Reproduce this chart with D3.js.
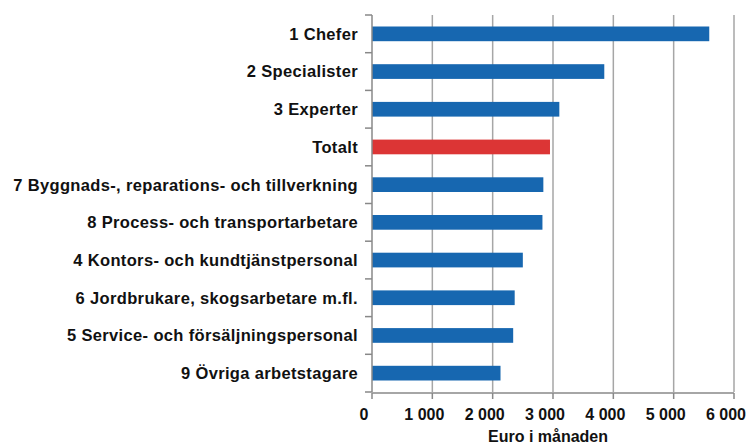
<!DOCTYPE html>
<html>
<head>
<meta charset="utf-8">
<script src="https://cdn.jsdelivr.net/npm/d3@7"></script>
<style>
  body { margin: 0; background: #fff; }
  text { font-family: "Liberation Sans", Arial, sans-serif; font-weight: bold; fill: #111; }
</style>
</head>
<body>
<svg id="chart" width="749" height="445"></svg>
<script>
// categories top to bottom, values in euro / month
const categories = [
  "1 Chefer",
  "2 Specialister",
  "3 Experter",
  "Totalt",
  "7 Byggnads-, reparations- och tillverkning",
  "8 Process- och transportarbetare",
  "4 Kontors- och kundtjänstpersonal",
  "6 Jordbrukare, skogsarbetare m.fl.",
  "5 Service- och försäljningspersonal",
  "9 Övriga arbetstagare"
];
const values = [5590, 3850, 3105, 2950, 2840, 2825, 2500, 2365, 2340, 2130];
const xTicks = [0, 1000, 2000, 3000, 4000, 5000, 6000];
const xTitle = "Euro i månaden";

const svg = d3.select("#chart");
const margin = { left: 372, top: 15, right: 15, bottom: 53 };

const x = d3.scaleLinear().domain([0, 6000]).range([margin.left, 734]);
const y = d3.scaleBand().domain(categories).range([margin.top, 392]).paddingInner(0.61).paddingOuter(0.305);

const fmt = d => d3.format(",")(d).replace(/,/g, " ");

// gridlines
svg.append("g")
  .selectAll("line")
  .data(xTicks.slice(1))
  .join("line")
  .attr("x1", d => x(d)).attr("x2", d => x(d))
  .attr("y1", margin.top).attr("y2", 392)
  .attr("stroke", "#a6a6a6").attr("stroke-width", 1.5);

// bars
svg.append("g")
  .selectAll("rect")
  .data(categories)
  .join("rect")
  .attr("x", x(0))
  .attr("y", d => y(d))
  .attr("width", (d, i) => x(values[i]) - x(0))
  .attr("height", y.bandwidth())
  .attr("fill", d => d === "Totalt" ? "#dc3535" : "#1767b0");

// y axis
const yAxis = svg.append("g").attr("transform", `translate(${x(0)},0)`);
yAxis.append("line")
  .attr("x1", 0).attr("x2", 0).attr("y1", margin.top).attr("y2", 392)
  .attr("stroke", "#888").attr("stroke-width", 1.5);
const step = y.step();
const bounds = d3.range(categories.length + 1).map(i => margin.top + i * step);
yAxis.selectAll("line.tick")
  .data(bounds)
  .join("line")
  .attr("class", "tick")
  .attr("x1", -7).attr("x2", 0)
  .attr("y1", d => d).attr("y2", d => d)
  .attr("stroke", "#888").attr("stroke-width", 1.5);

svg.append("g")
  .selectAll("text")
  .data(categories)
  .join("text")
  .attr("x", 358)
  .attr("y", d => y(d) + y.bandwidth() / 2)
  .attr("dy", "0.36em")
  .attr("text-anchor", "end")
  .style("font-size", "16.5px")
  .style("letter-spacing", "0.35px")
  .text(d => d);

// x axis
const xAxis = svg.append("g");
xAxis.append("line")
  .attr("x1", x(0)).attr("x2", x(6000)).attr("y1", 393).attr("y2", 393)
  .attr("stroke", "#888").attr("stroke-width", 1.5);
xAxis.selectAll("line.tick")
  .data(xTicks)
  .join("line")
  .attr("class", "tick")
  .attr("x1", d => x(d)).attr("x2", d => x(d))
  .attr("y1", 393).attr("y2", 399)
  .attr("stroke", "#888").attr("stroke-width", 1.5);
xAxis.selectAll("text")
  .data(xTicks)
  .join("text")
  .attr("x", d => x(d) - 8)
  .attr("y", 419.5)
  .attr("text-anchor", "middle")
  .style("font-size", "16px")
  .text(fmt);

svg.append("text")
  .attr("x", 548)
  .attr("y", 442)
  .attr("text-anchor", "middle")
  .style("font-size", "16px")
  .text(xTitle);
</script>
</body>
</html>
